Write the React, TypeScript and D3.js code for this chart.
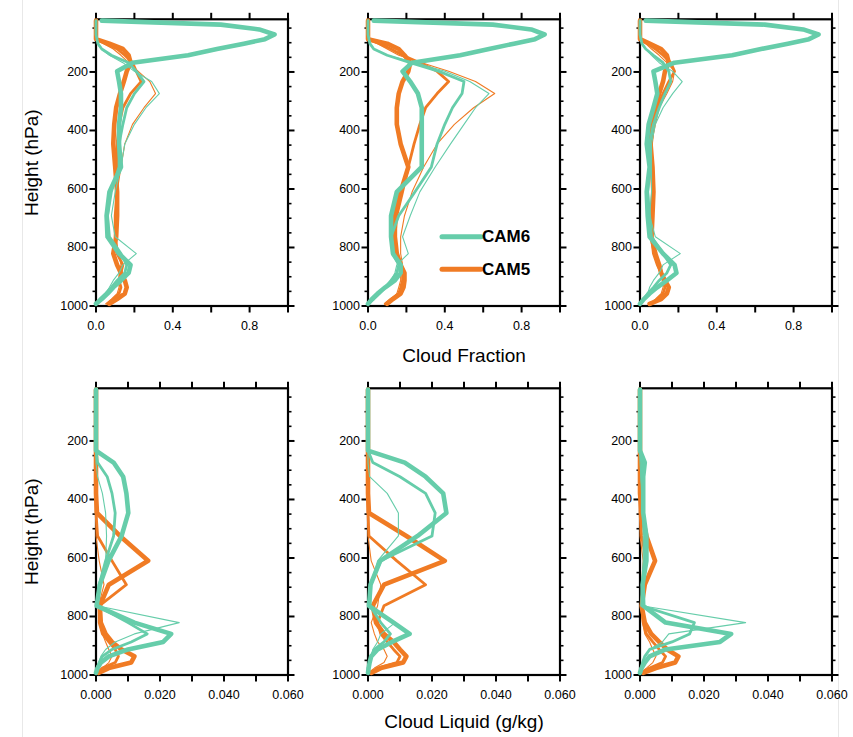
import React from 'react';
import * as d3 from 'd3';

// Model mid-level pressures (hPa)
const pressureLevels = [24.61, 38.27, 54.6, 72.01, 87.82, 103.32, 121.55, 142.99, 168.23, 197.91, 232.83, 273.91, 322.24, 379.1, 445.99, 524.69, 609.78, 691.39, 763.4, 820.86, 859.53, 887.02, 912.64, 936.2, 957.49, 976.33, 992.56];

// Cloud fraction, panel 1 (left)
const cf1Cam6Thick = [0.03, 0.65, 0.85, 0.93, 0.88, 0.77, 0.63, 0.48, 0.19, 0.11, 0.12, 0.13, 0.13, 0.12, 0.12, 0.13, 0.07, 0.055, 0.06, 0.12, 0.18, 0.17, 0.13, 0.09, 0.06, 0.03, 0.0];
const cf1Cam6Mid = [0, 0, 0, 0, 0.005, 0.01, 0.03, 0.08, 0.17, 0.21, 0.25, 0.2, 0.16, 0.14, 0.12, 0.12, 0.08, 0.06, 0.07, 0.13, 0.16, 0.15, 0.11, 0.08, 0.05, 0.02, 0.0];
const cf1Cam6Thin = [0, 0, 0, 0, 0.005, 0.01, 0.03, 0.07, 0.14, 0.2, 0.29, 0.33, 0.26, 0.2, 0.15, 0.13, 0.1, 0.08, 0.1, 0.21, 0.14, 0.12, 0.09, 0.07, 0.05, 0.03, 0.01];
const cf1Cam5Thick = [0, 0, 0, 0, 0, 0.07, 0.14, 0.17, 0.18, 0.16, 0.145, 0.125, 0.105, 0.095, 0.09, 0.1, 0.11, 0.11, 0.105, 0.09, 0.11, 0.13, 0.15, 0.16, 0.15, 0.11, 0.07];
const cf1Cam5Mid = [0, 0, 0, 0, 0, 0.05, 0.11, 0.15, 0.19, 0.21, 0.235, 0.18, 0.14, 0.12, 0.11, 0.11, 0.11, 0.1, 0.1, 0.11, 0.14, 0.13, 0.12, 0.13, 0.12, 0.09, 0.06];
const cf1Cam5Thin = [0, 0, 0, 0, 0, 0.04, 0.09, 0.13, 0.17, 0.22, 0.28, 0.31, 0.25, 0.19, 0.15, 0.13, 0.11, 0.1, 0.1, 0.12, 0.13, 0.12, 0.12, 0.12, 0.11, 0.08, 0.05];

// Cloud fraction, panel 2 (middle)
const cf2Cam6Thick = [0.03, 0.65, 0.85, 0.92, 0.87, 0.76, 0.63, 0.48, 0.23, 0.18, 0.22, 0.26, 0.28, 0.28, 0.28, 0.28, 0.15, 0.12, 0.12, 0.13, 0.17, 0.17, 0.14, 0.09, 0.05, 0.02, 0.0];
const cf2Cam6Mid = [0, 0, 0, 0, 0.005, 0.01, 0.03, 0.1, 0.22, 0.37, 0.5, 0.49, 0.44, 0.4, 0.36, 0.33, 0.245, 0.16, 0.12, 0.13, 0.16, 0.15, 0.12, 0.09, 0.06, 0.03, 0.0];
const cf2Cam6Thin = [0, 0, 0, 0, 0.005, 0.01, 0.03, 0.1, 0.25, 0.4, 0.53, 0.63, 0.56, 0.5, 0.43, 0.35, 0.27, 0.22, 0.18, 0.21, 0.15, 0.14, 0.12, 0.09, 0.06, 0.03, 0.01];
const cf2Cam5Thick = [0, 0, 0, 0, 0, 0.1, 0.16, 0.19, 0.22, 0.21, 0.18, 0.16, 0.15, 0.15, 0.17, 0.21, 0.17, 0.14, 0.14, 0.15, 0.17, 0.19, 0.19, 0.185, 0.17, 0.13, 0.1];
const cf2Cam5Mid = [0, 0, 0, 0, 0, 0.06, 0.12, 0.18, 0.27, 0.36, 0.42, 0.36, 0.3, 0.27, 0.24, 0.21, 0.18, 0.15, 0.14, 0.15, 0.17, 0.18, 0.18, 0.17, 0.16, 0.12, 0.09];
const cf2Cam5Thin = [0, 0, 0, 0, 0, 0.05, 0.1, 0.16, 0.28, 0.42, 0.56, 0.66, 0.55, 0.45, 0.36, 0.29, 0.23, 0.19, 0.17, 0.17, 0.18, 0.17, 0.17, 0.16, 0.15, 0.12, 0.09];

// Cloud fraction, panel 3 (right)
const cf3Cam6Thick = [0.03, 0.65, 0.85, 0.93, 0.88, 0.77, 0.63, 0.48, 0.18, 0.07, 0.08, 0.09, 0.07, 0.045, 0.035, 0.05, 0.035, 0.04, 0.05, 0.12, 0.18, 0.19, 0.14, 0.09, 0.05, 0.02, 0.0];
const cf3Cam6Mid = [0, 0, 0, 0, 0.005, 0.01, 0.03, 0.07, 0.12, 0.15, 0.16, 0.13, 0.1, 0.07, 0.05, 0.05, 0.04, 0.05, 0.06, 0.12, 0.16, 0.14, 0.1, 0.07, 0.04, 0.02, 0.0];
const cf3Cam6Thin = [0, 0, 0, 0, 0.005, 0.01, 0.03, 0.06, 0.1, 0.17, 0.22, 0.17, 0.12, 0.08, 0.06, 0.06, 0.06, 0.05, 0.08, 0.21, 0.12, 0.1, 0.07, 0.05, 0.04, 0.02, 0.0];
const cf3Cam5Thick = [0, 0, 0, 0, 0, 0.05, 0.11, 0.14, 0.15, 0.13, 0.12, 0.1, 0.08, 0.06, 0.055, 0.065, 0.07, 0.065, 0.06, 0.08, 0.1, 0.11, 0.13, 0.15, 0.14, 0.11, 0.05];
const cf3Cam5Mid = [0, 0, 0, 0, 0, 0.04, 0.08, 0.12, 0.16, 0.18, 0.15, 0.12, 0.09, 0.07, 0.06, 0.06, 0.065, 0.06, 0.06, 0.07, 0.09, 0.11, 0.12, 0.13, 0.12, 0.09, 0.06];
const cf3Cam5Thin = [0, 0, 0, 0, 0, 0.03, 0.06, 0.1, 0.14, 0.18, 0.17, 0.14, 0.1, 0.08, 0.06, 0.06, 0.06, 0.06, 0.06, 0.07, 0.09, 0.11, 0.12, 0.12, 0.11, 0.08, 0.05];

// Cloud liquid (g/kg), panel 4 (left)
const cl1Cam6Thick = [0, 0, 0, 0, 0, 0, 0, 0, 0, 0, 0, 0.0055, 0.0085, 0.0095, 0.0101, 0.008, 0.0039, 0.0012, 0.0002, 0.012, 0.0235, 0.021, 0.01, 0.004, 0.0015, 0.0005, 0];
const cl1Cam6Mid = [0, 0, 0, 0, 0, 0, 0, 0, 0, 0, 0, 0.0005, 0.0035, 0.005, 0.006, 0.0055, 0.003, 0.001, 0.0003, 0.01, 0.016, 0.011, 0.005, 0.002, 0.001, 0.0003, 0];
const cl1Cam6Thin = [0, 0, 0, 0, 0, 0, 0, 0, 0, 0, 0, 0, 0.0005, 0.002, 0.003, 0.0033, 0.003, 0.001, 0.0003, 0.026, 0.012, 0.006, 0.003, 0.0015, 0.0008, 0.0003, 0];
const cl1Cam5Thick = [0, 0, 0, 0, 0, 0, 0, 0, 0, 0, 0, 0, 0, 0, 0.0003, 0.0075, 0.0163, 0.004, 0.0012, 0.0015, 0.003, 0.005, 0.008, 0.012, 0.011, 0.004, 0.0008];
const cl1Cam5Mid = [0, 0, 0, 0, 0, 0, 0, 0, 0, 0, 0, 0, 0, 0, 0, 0.0005, 0.005, 0.0095, 0.001, 0.001, 0.002, 0.004, 0.006, 0.007, 0.006, 0.002, 0.0005];
const cl1Cam5Thin = [0, 0, 0, 0, 0, 0, 0, 0, 0, 0, 0, 0, 0, 0, 0, 0, 0.001, 0.0025, 0.0008, 0.001, 0.002, 0.003, 0.004, 0.005, 0.004, 0.002, 0];

// Cloud liquid, panel 5 (middle)
const cl2Cam6Thick = [0, 0, 0, 0, 0, 0, 0, 0, 0, 0, 0, 0.0115, 0.018, 0.0235, 0.0245, 0.0155, 0.0038, 0.0008, 0.0003, 0.008, 0.013, 0.0075, 0.003, 0.001, 0.0005, 0.0002, 0];
const cl2Cam6Mid = [0, 0, 0, 0, 0, 0, 0, 0, 0, 0, 0, 0.0015, 0.01, 0.018, 0.021, 0.02, 0.004, 0.0008, 0.0006, 0.004, 0.007, 0.005, 0.002, 0.001, 0.0005, 0, 0];
const cl2Cam6Thin = [0, 0, 0, 0, 0, 0, 0, 0, 0, 0, 0, 0, 0.0005, 0.006, 0.0095, 0.0095, 0.003, 0.0008, 0.0005, 0.0085, 0.004, 0.003, 0.0015, 0.001, 0.0005, 0, 0];
const cl2Cam5Thick = [0, 0, 0, 0, 0, 0, 0, 0, 0, 0, 0, 0, 0, 0, 0.0003, 0.012, 0.024, 0.005, 0.0015, 0.0025, 0.005, 0.008, 0.01, 0.012, 0.011, 0.004, 0.001];
const cl2Cam5Mid = [0, 0, 0, 0, 0, 0, 0, 0, 0, 0, 0, 0, 0, 0, 0, 0.0003, 0.009, 0.018, 0.005, 0.003, 0.004, 0.006, 0.008, 0.01, 0.009, 0.003, 0.0008];
const cl2Cam5Thin = [0, 0, 0, 0, 0, 0, 0, 0, 0, 0, 0, 0, 0, 0, 0, 0, 0.001, 0.004, 0.003, 0.001, 0.002, 0.003, 0.005, 0.006, 0.005, 0.002, 0];

// Cloud liquid, panel 6 (right)
const cl3Cam6Thick = [0, 0, 0, 0, 0, 0, 0, 0, 0, 0, 0, 0.0015, 0.001, 0.001, 0.001, 0.002, 0.002, 0.0008, 0.001, 0.008, 0.0285, 0.025, 0.008, 0.003, 0.0015, 0.0005, 0];
const cl3Cam6Mid = [0, 0, 0, 0, 0, 0, 0, 0, 0, 0, 0, 0.0005, 0.0005, 0.001, 0.001, 0.0015, 0.0015, 0.0008, 0.0005, 0.017, 0.0155, 0.01, 0.003, 0.0015, 0.0008, 0.0003, 0];
const cl3Cam6Thin = [0, 0, 0, 0, 0, 0, 0, 0, 0, 0, 0, 0, 0.0003, 0.0005, 0.0008, 0.001, 0.001, 0.0005, 0.0005, 0.033, 0.009, 0.007, 0.003, 0.0015, 0.0008, 0.0003, 0];
const cl3Cam5Thick = [0, 0, 0, 0, 0, 0, 0, 0, 0, 0, 0, 0, 0, 0, 0.0005, 0.002, 0.0047, 0.0015, 0.0005, 0.0015, 0.0035, 0.006, 0.0085, 0.012, 0.011, 0.005, 0.001];
const cl3Cam5Mid = [0, 0, 0, 0, 0, 0, 0, 0, 0, 0, 0, 0, 0, 0, 0, 0.0005, 0.002, 0.001, 0.0005, 0.001, 0.002, 0.004, 0.006, 0.008, 0.007, 0.003, 0.0005];
const cl3Cam5Thin = [0, 0, 0, 0, 0, 0, 0, 0, 0, 0, 0, 0, 0, 0, 0, 0, 0.001, 0.0005, 0.0003, 0.0008, 0.0015, 0.003, 0.004, 0.005, 0.004, 0.002, 0];

const cfTicks = [0, 0.2, 0.4, 0.6, 0.8, 1.0];
const cfTickLabels = ['0.0', '', '0.4', '', '0.8', ''];
const clTicks = [0, 0.01, 0.02, 0.03, 0.04, 0.05, 0.06];
const clTickLabels = ['0.000', '', '0.020', '', '0.040', '', '0.060'];
const yMajorTicks = [200, 400, 600, 800, 1000];
const yMinorTicks = [50, 100, 150, 250, 300, 350, 450, 500, 550, 650, 700, 750, 850, 900, 950];
const legendNames = ['CAM6', 'CAM5'];

const GREEN = '#66CDAA';
const ORANGE = '#F07B24';
const FONT = '"Liberation Sans", Arial, Helvetica, sans-serif';

const colX = [96, 368, 640];
const panelW = 192;
const rows = [
  { top: 19.3, bottom: 306, domain: [0, 1.0], ticks: cfTicks, labels: cfTickLabels, title: 'Cloud Fraction', titleY: 355 },
  { top: 388.3, bottom: 675, domain: [0, 0.06], ticks: clTicks, labels: clTickLabels, title: 'Cloud Liquid (g/kg)', titleY: 721 },
];

const panelData = [
  [
    { cam6: [cf1Cam6Thin, cf1Cam6Mid, cf1Cam6Thick], cam5: [cf1Cam5Thin, cf1Cam5Mid, cf1Cam5Thick] },
    { cam6: [cf2Cam6Thin, cf2Cam6Mid, cf2Cam6Thick], cam5: [cf2Cam5Thin, cf2Cam5Mid, cf2Cam5Thick] },
    { cam6: [cf3Cam6Thin, cf3Cam6Mid, cf3Cam6Thick], cam5: [cf3Cam5Thin, cf3Cam5Mid, cf3Cam5Thick] },
  ],
  [
    { cam6: [cl1Cam6Thin, cl1Cam6Mid, cl1Cam6Thick], cam5: [cl1Cam5Thin, cl1Cam5Mid, cl1Cam5Thick] },
    { cam6: [cl2Cam6Thin, cl2Cam6Mid, cl2Cam6Thick], cam5: [cl2Cam5Thin, cl2Cam5Mid, cl2Cam5Thick] },
    { cam6: [cl3Cam6Thin, cl3Cam6Mid, cl3Cam6Thick], cam5: [cl3Cam5Thin, cl3Cam5Mid, cl3Cam5Thick] },
  ],
];

const widths = [1.1, 2.8, 4.6];

function Panel({ row, col }: { row: number; col: number }) {
  const r = rows[row];
  const x0 = colX[col];
  const x = d3.scaleLinear().domain(r.domain).range([x0, x0 + panelW]);
  const y = d3.scaleLinear().domain([20, 1000]).range([r.top, r.bottom]);
  const line = d3
    .line<number>()
    .x((d) => x(d))
    .y((_, i) => y(pressureLevels[i]));
  const data = panelData[row][col];
  const major = 6.5;
  const minor = 3.5;
  return (
    <g>
      {/* ticks */}
      {r.ticks.map((t, i) => (
        <g key={'xt' + i}>
          <line x1={x(t)} x2={x(t)} y1={r.top} y2={r.top - major} stroke="#000" strokeWidth={2} />
          <line x1={x(t)} x2={x(t)} y1={r.bottom} y2={r.bottom + major} stroke="#000" strokeWidth={2} />
          {r.labels[i] && (
            <text x={x(t)} y={r.bottom + 20} textAnchor="middle" dominantBaseline="central" fontSize={12.5} fontFamily={FONT}>
              {r.labels[i]}
            </text>
          )}
        </g>
      ))}
      {yMajorTicks.map((t) => (
        <g key={'ym' + t}>
          <line x1={x0} x2={x0 - major} y1={y(t)} y2={y(t)} stroke="#000" strokeWidth={2} />
          <line x1={x0 + panelW} x2={x0 + panelW + major} y1={y(t)} y2={y(t)} stroke="#000" strokeWidth={2} />
          <text x={x0 - 8} y={y(t)} textAnchor="end" dominantBaseline="central" fontSize={12.5} fontFamily={FONT}>
            {t}
          </text>
        </g>
      ))}
      {yMinorTicks.map((t) => (
        <g key={'yn' + t}>
          <line x1={x0} x2={x0 - minor} y1={y(t)} y2={y(t)} stroke="#000" strokeWidth={1.6} />
          <line x1={x0 + panelW} x2={x0 + panelW + minor} y1={y(t)} y2={y(t)} stroke="#000" strokeWidth={1.6} />
        </g>
      ))}
      <rect x={x0} y={r.top} width={panelW} height={r.bottom - r.top} fill="none" stroke="#000" strokeWidth={2.2} />
      {data.cam5.map((s, i) => (
        <path key={'o' + i} d={line(s) || ''} fill="none" stroke={ORANGE} strokeWidth={widths[i]} strokeLinejoin="round" strokeLinecap="round" />
      ))}
      {data.cam6.map((s, i) => (
        <path key={'g' + i} d={line(s) || ''} fill="none" stroke={GREEN} strokeWidth={widths[i]} strokeLinejoin="round" strokeLinecap="round" />
      ))}
    </g>
  );
}

export default function App() {
  const legendColors = [GREEN, ORANGE];
  const legendY = [236.7, 269.3];
  return (
    <svg width={853} height={737} style={{ position: 'absolute', left: 0, top: 0, background: '#fff' }}>
      <rect x={0} y={0} width={853} height={737} fill="#fff" />
      <line x1={22.5} x2={22.5} y1={0} y2={737} stroke="#e8e8e8" strokeWidth={1} />
      <line x1={838.5} x2={838.5} y1={0} y2={737} stroke="#e8e8e8" strokeWidth={1} />
      {[0, 1].map((row) => [0, 1, 2].map((col) => <Panel key={row + '-' + col} row={row} col={col} />))}
      {rows.map((r, i) => (
        <g key={'t' + i}>
          <text x={464} y={r.titleY} textAnchor="middle" dominantBaseline="central" fontSize={19} fontFamily={FONT}>
            {r.title}
          </text>
          <text
            transform={`translate(31,${(r.top + r.bottom) / 2}) rotate(-90)`}
            textAnchor="middle"
            dominantBaseline="central"
            fontSize={19}
            fontFamily={FONT}
          >
            Height (hPa)
          </text>
        </g>
      ))}
      {legendNames.map((n, i) => (
        <g key={n}>
          <line x1={442} x2={481} y1={legendY[i]} y2={legendY[i]} stroke={legendColors[i]} strokeWidth={5} strokeLinecap="round" />
          <text x={482} y={legendY[i]} dominantBaseline="central" fontSize={17} fontWeight="bold" fontFamily={FONT}>
            {n}
          </text>
        </g>
      ))}
    </svg>
  );
}
